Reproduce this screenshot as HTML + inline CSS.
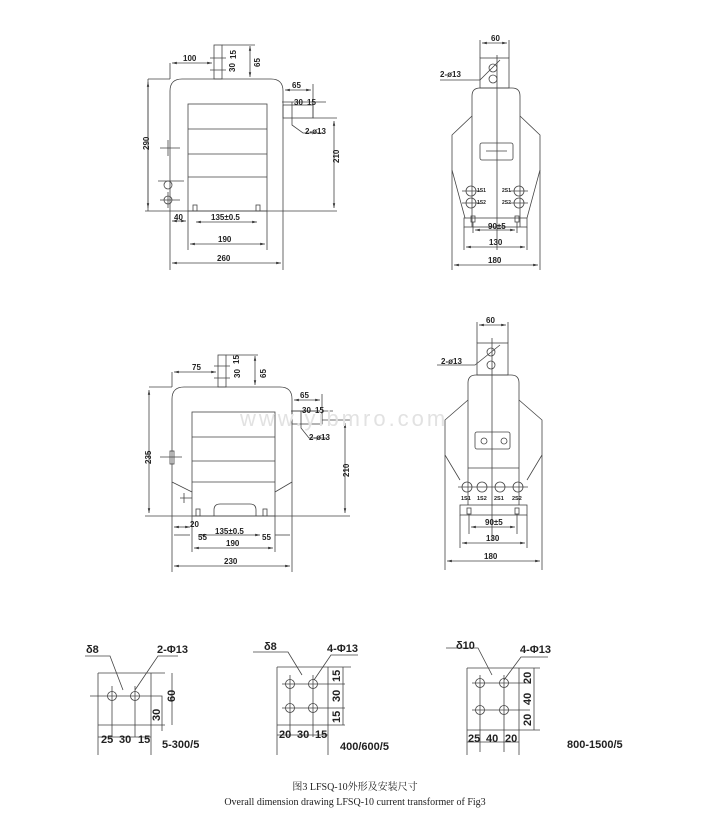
<!DOCTYPE html>
<html><head><meta charset="utf-8"><style>
html,body{margin:0;padding:0;background:#fff}
svg{display:block}
text{font-family:"Liberation Sans",Arial,sans-serif;font-size:8px;font-weight:bold;fill:#222}
.b text{font-size:11px}
</style></head><body>
<svg width="709" height="831" viewBox="0 0 709 831" xmlns="http://www.w3.org/2000/svg">
<defs><marker id="a" markerWidth="6" markerHeight="6" refX="6" refY="3" orient="auto-start-reverse"><path d="M0,1.5L6,3L0,4.5z" fill="#333"/></marker></defs>
<g fill="none" stroke="#444" stroke-width="0.8">
<path d="M170,211V91Q170,79 182,79H271Q283,79 283,91V211"/>
<rect x="188" y="104" width="79" height="107"/>
<path d="M188,129H267M188,154H267M188,177H267"/>
<rect x="214" y="45" width="8" height="34"/>
<rect x="283" y="105" width="30" height="13"/>
<path d="M145,211H337M170,211V270M283,211V270M188,211V250M267,211V250"/>
<path d="M160,148H180M168,140V156M158,181H184M160,200H180M168,192V208"/>
<circle cx="168" cy="185" r="4"/><circle cx="168" cy="200" r="4"/>
<rect x="193" y="205" width="4" height="6"/><rect x="256" y="205" width="4" height="6"/>
<path d="M148,79H170M148,79V211" /><line x1="148" y1="82" x2="148" y2="208" marker-start="url(#a)" marker-end="url(#a)"/>
<path d="M313,118H337"/><line x1="334" y1="121" x2="334" y2="208" marker-start="url(#a)" marker-end="url(#a)"/>
<line x1="172" y1="63" x2="212" y2="63" marker-start="url(#a)" marker-end="url(#a)"/><path d="M170,63V79"/>
<path d="M210,58H226M210,70H226M222,45H255"/><line x1="250" y1="46" x2="250" y2="77" marker-start="url(#a)" marker-end="url(#a)"/>
<line x1="285" y1="90" x2="311" y2="90" marker-start="url(#a)" marker-end="url(#a)"/><path d="M313,84V118"/>
<path d="M282,102H326M292,102V125L303,133H323"/>
<line x1="172" y1="221" x2="186" y2="221" marker-start="url(#a)" marker-end="url(#a)"/>
<line x1="196" y1="222" x2="257" y2="222" marker-start="url(#a)" marker-end="url(#a)"/>
<line x1="190" y1="244" x2="265" y2="244" marker-start="url(#a)" marker-end="url(#a)"/>
<line x1="172" y1="263" x2="281" y2="263" marker-start="url(#a)" marker-end="url(#a)"/>
<rect x="480" y="58" width="29" height="30"/>
<path d="M472,227V96Q472,88 480,88H512Q520,88 520,96V227"/>
<path d="M472,116L452,135V170L465,218M520,116L540,135V170L527,218"/>
<rect x="464" y="218" width="63" height="9"/>
<path d="M497,55V250"/>
<rect x="480" y="143" width="33" height="17" rx="2"/>
<circle cx="493" cy="68" r="4"/><circle cx="493" cy="79" r="4"/>
<circle cx="471" cy="191" r="5"/><circle cx="471" cy="203" r="5"/><circle cx="519" cy="191" r="5"/><circle cx="519" cy="203" r="5"/>
<path d="M462,191H480M462,203H480M510,191H528M510,203H528M486,151H507"/>
<rect x="471" y="216" width="4" height="6"/><rect x="515" y="216" width="4" height="6"/>
<path d="M480,40V58M509,40V58M473,222V233M517,222V233M464,227V250M527,227V250M452,170V270M540,170V270"/>
<line x1="482" y1="43" x2="507" y2="43" marker-start="url(#a)" marker-end="url(#a)"/>
<path d="M440,80H480L500,60"/>
<line x1="475" y1="230" x2="515" y2="230" marker-start="url(#a)" marker-end="url(#a)"/>
<line x1="466" y1="247" x2="525" y2="247" marker-start="url(#a)" marker-end="url(#a)"/>
<line x1="454" y1="265" x2="538" y2="265" marker-start="url(#a)" marker-end="url(#a)"/>
<path d="M172,516V399Q172,387 184,387H280Q292,387 292,399V516"/>
<rect x="192" y="412" width="83" height="104"/>
<path d="M192,437H275M192,461H275M192,482H275M172,482L192,492M292,482L275,492"/>
<path d="M214,516V510Q214,504 220,504H250Q256,504 256,510V516"/>
<rect x="218" y="355" width="8" height="32"/>
<rect x="292" y="411" width="30" height="13"/>
<rect x="170" y="451" width="4" height="13"/><path d="M160,457H182M180,498H192M184,493V503"/>
<rect x="196" y="509" width="4" height="7"/><rect x="263" y="509" width="4" height="7"/>
<path d="M145,516H350M172,516V572M292,516V572M192,516V552M275,516V552"/>
<path d="M149,387H172"/><line x1="149" y1="390" x2="149" y2="513" marker-start="url(#a)" marker-end="url(#a)"/>
<path d="M322,420H350"/><line x1="345" y1="423" x2="345" y2="513" marker-start="url(#a)" marker-end="url(#a)"/>
<line x1="174" y1="372" x2="216" y2="372" marker-start="url(#a)" marker-end="url(#a)"/><path d="M172,372V387"/>
<path d="M214,366H230M214,378H230M226,355H258"/><line x1="255" y1="356" x2="255" y2="385" marker-start="url(#a)" marker-end="url(#a)"/>
<line x1="294" y1="400" x2="320" y2="400" marker-start="url(#a)" marker-end="url(#a)"/><path d="M322,394V424"/>
<path d="M291,411H333M301,411V428L309,438H327"/>
<line x1="174" y1="527" x2="190" y2="527" marker-start="url(#a)" marker-end="url(#a)"/>
<line x1="174" y1="535" x2="190" y2="535"/><line x1="200" y1="535" x2="260" y2="535" marker-start="url(#a)" marker-end="url(#a)"/><line x1="275" y1="535" x2="290" y2="535"/>
<line x1="194" y1="548" x2="273" y2="548" marker-start="url(#a)" marker-end="url(#a)"/>
<line x1="174" y1="566" x2="290" y2="566" marker-start="url(#a)" marker-end="url(#a)"/>
<rect x="477" y="343" width="31" height="32"/>
<path d="M468,505V383Q468,375 476,375H511Q519,375 519,383V505M468,468H519"/>
<path d="M468,400L445,420V455L460,480M519,400L542,420V455L527,480"/>
<rect x="460" y="505" width="67" height="10"/>
<path d="M492,338V540"/>
<rect x="475" y="432" width="35" height="17" rx="2"/>
<circle cx="491" cy="352" r="4"/><circle cx="491" cy="365" r="4"/>
<circle cx="484" cy="441" r="3"/><circle cx="504" cy="441" r="3"/>
<circle cx="467" cy="487" r="5"/><circle cx="482" cy="487" r="5"/><circle cx="500" cy="487" r="5"/><circle cx="518" cy="487" r="5"/>
<path d="M458,487H528"/>
<rect x="467" y="508" width="4" height="6"/><rect x="515" y="508" width="4" height="6"/>
<path d="M477,322V343M508,322V343M469,514V534M517,514V534M460,515V548M527,515V548M445,455V570M542,455V570"/>
<line x1="479" y1="325" x2="506" y2="325" marker-start="url(#a)" marker-end="url(#a)"/>
<path d="M437,365H475L500,345"/>
<line x1="471" y1="527" x2="515" y2="527" marker-start="url(#a)" marker-end="url(#a)"/>
<line x1="462" y1="543" x2="525" y2="543" marker-start="url(#a)" marker-end="url(#a)"/>
<line x1="447" y1="561" x2="540" y2="561" marker-start="url(#a)" marker-end="url(#a)"/>
<path d="M98,673H165M98,673V755M98,725H165M151,673V755M98,737H151M90,696H146M112,686V737M135,686V737M135,696H162V731M172,673V725"/>
<circle cx="112" cy="696" r="4.5"/><circle cx="135" cy="696" r="4.5"/>
<path d="M85,656H110L123,690M135,690L158,656H178"/>
<path d="M277,667H351M277,667V755M277,725H345M328,667V755M277,735H328M282,684H345M282,708H345M290,675V737M313,675V737M343,667V725"/>
<circle cx="290" cy="684" r="4.5"/><circle cx="313" cy="684" r="4.5"/><circle cx="290" cy="708" r="4.5"/><circle cx="313" cy="708" r="4.5"/>
<path d="M253,652H288L302,675M314,680L331,655H358"/>
<path d="M467,668H540M467,668V755M467,730H540M519,668V755M467,742H519M472,683H530M472,710H530M480,675V752M504,675V752M534,668V730"/>
<circle cx="480" cy="683" r="4.5"/><circle cx="504" cy="683" r="4.5"/><circle cx="480" cy="710" r="4.5"/><circle cx="504" cy="710" r="4.5"/>
<path d="M446,648H478L492,675M504,680L521,657H548"/>
</g>
<text x="440" y="77">2-ø13</text>
<text x="183" y="61">100</text><text x="226" y="69" transform="rotate(-90 232 66)">30</text><text x="227" y="58" transform="rotate(-90 232 54)">15</text>
<text x="254" y="67" transform="rotate(-90 257 64)">65</text>
<text x="292" y="88">65</text><text x="294" y="105">30</text><text x="307" y="105">15</text><text x="305" y="134">2-ø13</text>
<text x="140" y="149" transform="rotate(-90 145 145)">290</text><text x="330" y="162" transform="rotate(-90 335 158)">210</text>
<text x="174" y="220">40</text><text x="211" y="220">135±0.5</text><text x="218" y="242">190</text><text x="217" y="261">260</text>
<text x="491" y="41">60</text>
<text x="477" y="192" style="font-size:5px">1S1</text><text x="477" y="204" style="font-size:5px">1S2</text><text x="502" y="192" style="font-size:5px">2S1</text><text x="502" y="204" style="font-size:5px">2S2</text>
<text x="488" y="229">90±5</text><text x="489" y="245">130</text><text x="488" y="263">180</text>
<text x="192" y="370">75</text><text x="231" y="377" transform="rotate(-90 236 373)">30</text><text x="231" y="362" transform="rotate(-90 236 359)">15</text>
<text x="258" y="378" transform="rotate(-90 262 374)">65</text>
<text x="300" y="398">65</text><text x="302" y="413">30</text><text x="315" y="413">15</text><text x="309" y="440">2-ø13</text>
<text x="140" y="461" transform="rotate(-90 147 457)">235</text><text x="340" y="476" transform="rotate(-90 345 472)">210</text>
<text x="190" y="527">20</text><text x="198" y="540">55</text><text x="215" y="534">135±0.5</text><text x="262" y="540">55</text>
<text x="226" y="546">190</text><text x="224" y="564">230</text>
<text x="486" y="323">60</text><text x="441" y="364">2-ø13</text>
<text x="461" y="500" style="font-size:5.5px">1S1</text><text x="477" y="500" style="font-size:5.5px">1S2</text><text x="494" y="500" style="font-size:5.5px">2S1</text><text x="512" y="500" style="font-size:5.5px">2S2</text>
<text x="485" y="525">90±5</text><text x="486" y="541">130</text><text x="484" y="559">180</text>
<text x="240" y="426" style="font-size:22px;font-weight:normal;fill:#e2e2e2;letter-spacing:3px">www.yibmro.com</text>
<g class="b">
<text x="86" y="653">δ8</text><text x="157" y="653">2-Φ13</text>
<text x="165" y="700" transform="rotate(-90 171 696)">60</text><text x="150" y="719" transform="rotate(-90 156 715)">30</text>
<text x="101" y="743">25</text><text x="119" y="743">30</text><text x="138" y="743">15</text><text x="162" y="748">5-300/5</text>
<text x="264" y="650">δ8</text><text x="327" y="652">4-Φ13</text>
<text x="330" y="680" transform="rotate(-90 336 676)">15</text><text x="330" y="700" transform="rotate(-90 336 696)">30</text><text x="330" y="721" transform="rotate(-90 336 717)">15</text>
<text x="279" y="738">20</text><text x="297" y="738">30</text><text x="315" y="738">15</text><text x="340" y="750">400/600/5</text>
<text x="456" y="649">δ10</text><text x="520" y="653">4-Φ13</text>
<text x="521" y="682" transform="rotate(-90 527 678)">20</text><text x="521" y="703" transform="rotate(-90 527 699)">40</text><text x="521" y="724" transform="rotate(-90 527 720)">20</text>
<text x="468" y="742">25</text><text x="486" y="742">40</text><text x="505" y="742">20</text><text x="567" y="748">800-1500/5</text>
</g>
<text x="355" y="790" text-anchor="middle" style="font-family:'Liberation Serif','Noto Serif CJK SC',serif;font-size:10px;font-weight:normal">图3 LFSQ-10外形及安装尺寸</text>
<text x="355" y="805" text-anchor="middle" style="font-family:'Liberation Serif',serif;font-size:10px;font-weight:normal">Overall dimension drawing LFSQ-10 current transformer of Fig3</text>
</svg>
</body></html>
